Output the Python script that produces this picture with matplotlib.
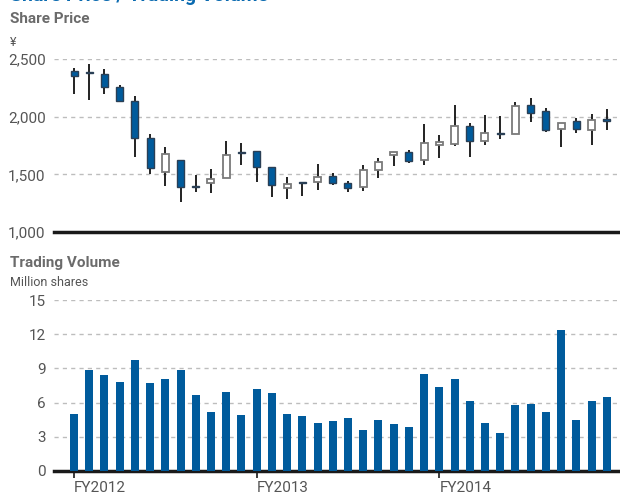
import matplotlib
matplotlib.use("Agg")
import matplotlib.pyplot as plt
import numpy as np

plt.rcParams['font.family'] = ['Roboto', 'DejaVu Sans']

# ---- data ----
months = list(range(36))
fy_labels = ["FY2012", "FY2013", "FY2014"]
fy_positions = [0, 12, 24]

opens = [2395, 2390, 2373, 2257, 2133, 1815, 1518, 1622, 1395, 1427, 1466, 1692,
         1702, 1561, 1381, 1436, 1431, 1486, 1422, 1393, 1535, 1665, 1694, 1622,
         1752, 1763, 1916, 1792, 1861, 1852, 2099, 2052, 1893, 1965, 1883, 1978]
closes = [2355, 2375, 2260, 2138, 1818, 1552, 1676, 1393, 1388, 1457, 1665, 1682,
          1561, 1408, 1416, 1425, 1477, 1425, 1381, 1535, 1607, 1691, 1618, 1769,
          1778, 1916, 1792, 1856, 1847, 2090, 2034, 1882, 1948, 1891, 1974, 1966]
highs = [2420, 2455, 2415, 2275, 2180, 1847, 1737, 1625, 1494, 1546, 1789, 1769,
         1702, 1561, 1477, 1436, 1590, 1509, 1442, 1578, 1642, 1691, 1708, 1934,
         1838, 2101, 1945, 2014, 2006, 2124, 2162, 2073, 1948, 1988, 2020, 2064]
lows = [2195, 2145, 2195, 2130, 1653, 1505, 1401, 1263, 1350, 1341, 1466, 1581,
        1436, 1306, 1289, 1315, 1367, 1408, 1350, 1358, 1468, 1575, 1596, 1581,
        1642, 1750, 1653, 1752, 1809, 1852, 1956, 1864, 1734, 1856, 1752, 1887]
volume = [5.0, 8.9, 8.4, 7.85, 9.7, 7.7, 8.1, 8.9, 6.7, 5.2, 6.9, 4.9,
          7.2, 6.85, 5.0, 4.85, 4.2, 4.4, 4.65, 3.6, 4.5, 4.1, 3.85, 8.5,
          7.4, 8.1, 6.1, 4.2, 3.35, 5.75, 5.9, 5.2, 12.4, 4.5, 6.1, 6.5]

price_ticks = [1000, 1500, 2000, 2500]
vol_ticks = [0, 3, 6, 9, 12, 15]

BLUE = '#005b9c'
GRAY_TXT = '#6b6b6b'
TICK_TXT = '#555555'

W, H = 620, 492
fig = plt.figure(figsize=(W / 100, H / 100), dpi=100)

def ax_rect(left, top, right, bottom):
    return [left / W, 1 - bottom / H, (right - left) / W, (bottom - top) / H]

x = np.array(months)
xlim = (-1.314, 35.87)

# ---- price axes ----
axp = fig.add_axes(ax_rect(54, 59, 620, 232))
o = np.array(opens); c = np.array(closes)
up = c >= o
axp.vlines(x, lows, highs, color='#111111', linewidth=1.3, zorder=2)
body_bottom = np.minimum(o, c)
body_h = np.maximum(np.abs(c - o), 6)
axp.bar(x[up], body_h[up], bottom=body_bottom[up], width=0.46,
        facecolor='white', edgecolor='#7a7a7a', linewidth=1.3, zorder=3)
axp.bar(x[~up], body_h[~up], bottom=body_bottom[~up], width=0.46,
        facecolor=BLUE, edgecolor='#2a3f55', linewidth=1.0, zorder=3)
axp.set_xlim(*xlim)
axp.set_ylim(1000, 2500)
axp.set_yticks(price_ticks)
axp.set_yticklabels([f"{v:,}" for v in price_ticks])
axp.set_xticks([])
axp.yaxis.grid(True, linestyle=(0, (3, 3)), color='#bdbdbd', linewidth=1.0)
axp.set_axisbelow(True)
for s in ['left', 'right', 'top']:
    axp.spines[s].set_visible(False)
axp.spines['bottom'].set_linewidth(2.5)
axp.spines['bottom'].set_color('#1a1a1a')
axp.tick_params(axis='y', length=0, pad=6, labelsize=11, labelcolor=TICK_TXT)

# ---- volume axes ----
axv = fig.add_axes(ax_rect(54, 300, 620, 471))
axv.bar(x, volume, width=0.53, color=BLUE, zorder=3)
axv.set_xlim(*xlim)
axv.set_ylim(0, 15)
axv.set_yticks(vol_ticks)
axv.set_yticklabels([str(v) for v in vol_ticks])
axv.set_xticks(fy_positions)
axv.set_xticklabels(fy_labels, ha='left')
for lbl in axv.get_xticklabels():
    lbl.set_x(lbl.get_position()[0])
axv.yaxis.grid(True, linestyle=(0, (3, 3)), color='#bdbdbd', linewidth=1.0)
axv.set_axisbelow(True)
for s in ['left', 'right', 'top']:
    axv.spines[s].set_visible(False)
axv.spines['bottom'].set_linewidth(2.5)
axv.spines['bottom'].set_color('#1a1a1a')
axv.tick_params(axis='y', length=0, pad=6, labelsize=11, labelcolor=TICK_TXT)
axv.tick_params(axis='x', length=5, width=1.2, color='#1a1a1a', direction='out',
                pad=2, labelsize=11, labelcolor=TICK_TXT)

# ---- texts ----
def ftext(px, py, s, **kw):
    fig.text(px / W, 1 - py / H, s, **kw)

ftext(10, 1, "Share Price / Trading Volume", color='#0a6ab0', fontsize=14,
      fontweight='bold', va='baseline', ha='left')
ftext(10, 19, "Share Price", color=GRAY_TXT, fontsize=11, fontweight='bold',
      va='center', ha='left')
ftext(10, 42, "¥", color=TICK_TXT, fontsize=9, va='center', ha='left')
ftext(10, 263, "Trading Volume", color=GRAY_TXT, fontsize=11, fontweight='bold',
      va='center', ha='left')
ftext(10, 283, "Million shares", color=TICK_TXT, fontsize=9, va='center', ha='left')

fig.savefig("out.png", dpi=100)
